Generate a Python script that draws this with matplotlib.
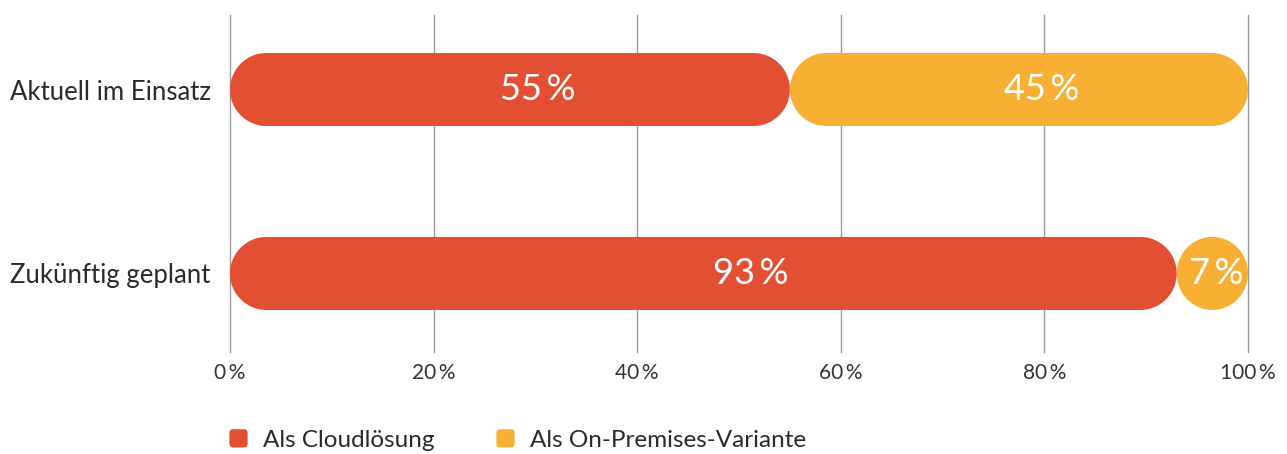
import matplotlib
matplotlib.use("Agg")
import numpy as np
import matplotlib.pyplot as plt
from matplotlib.patches import FancyBboxPatch, PathPatch, Patch
from matplotlib.path import Path
from matplotlib.legend_handler import HandlerPatch

plt.rcParams['font.family'] = ['Lato', 'DejaVu Sans']

categories = ["Aktuell im Einsatz", "Zukünftig geplant"]
series_names = ["Als Cloudlösung", "Als On-Premises-Variante"]
cloud = [55, 93]
onprem = [45, 7]
colors = ["#E34F33", "#F7B033"]
xticks = [0, 20, 40, 60, 80, 100]
xtick_labels = ["0\u2009%", "20\u2009%", "40\u2009%", "60\u2009%", "80\u2009%", "100\u2009%"]

W, H, DPI = 1287, 454, 100
fig = plt.figure(figsize=(W / DPI, H / DPI), dpi=DPI)
left_px, right_px, top_px, bot_px = 230, 1248, 15, 352
ax = fig.add_axes([left_px / W, 1 - bot_px / H, (right_px - left_px) / W, (bot_px - top_px) / H])
ylo, yhi = -0.405, 1.427
ax.set_xlim(0, 100)
ax.set_ylim(yhi, ylo)

bar_h = 0.397
px_per_x = (right_px - left_px) / 100.0
px_per_y = (bot_px - top_px) / (yhi - ylo)


def pill(x0, w, yc, h):
    ry = h / 2.0
    rx = min(ry * px_per_y / px_per_x, w / 2.0)
    t = np.linspace(-np.pi / 2, np.pi / 2, 60)
    right = np.column_stack([x0 + w - rx + rx * np.cos(t), yc + ry * np.sin(t)])
    t2 = np.linspace(np.pi / 2, 3 * np.pi / 2, 60)
    left = np.column_stack([x0 + rx + rx * np.cos(t2), yc + ry * np.sin(t2)])
    verts = np.vstack([right, left, right[:1]])
    codes = [Path.MOVETO] + [Path.LINETO] * (len(verts) - 2) + [Path.CLOSEPOLY]
    return Path(verts, codes)


for i, cat in enumerate(categories):
    starts = [0, cloud[i]]
    widths = [cloud[i], onprem[i]]
    for s, w, c in zip(starts, widths, colors):
        ax.add_patch(PathPatch(pill(s, w, i, bar_h), facecolor=c, edgecolor="none", zorder=3))
        ax.text(s + w * 0.55, i, f"{w}\u2009%", color="white", fontsize=26,
                ha="center", va="center", zorder=4)

ax.set_yticks(range(len(categories)))
ax.set_yticklabels(categories, fontsize=18.5, color="#2a2a2a")
ax.set_xticks(xticks)
ax.set_xticklabels(xtick_labels, fontsize=15, color="#333333")
ax.tick_params(axis="y", length=0, pad=14)
ax.tick_params(axis="x", length=0, pad=8)
ax.grid(axis="x", color="#9a9a9a", linewidth=1.0, zorder=0)
ax.grid(axis="y", visible=False)
for gl in ax.get_xgridlines():
    gl.set_clip_on(False)
for sp in ax.spines.values():
    sp.set_visible(False)


def make_rounded(legend, orig_handle, xdescent, ydescent, width, height, fontsize):
    size = min(width, height)
    return FancyBboxPatch((-xdescent + (width - size) / 2, -ydescent + (height - size) / 2),
                          size, size, boxstyle=f"round,pad=0,rounding_size={size*0.22}")

handles = [Patch(facecolor=c, edgecolor="none", label=n) for c, n in zip(colors, series_names)]
leg = fig.legend(handles=handles, loc="center left", bbox_to_anchor=(229 / W, 1 - 440 / H),
                 ncol=2, frameon=False, fontsize=17.5, handlelength=0.78, handleheight=0.78,
                 handletextpad=0.6, columnspacing=2.55, borderpad=0, borderaxespad=0,
                 handler_map={Patch: HandlerPatch(patch_func=make_rounded)}, labelcolor="#2a2a2a")

fig.savefig("out.png", dpi=DPI)
